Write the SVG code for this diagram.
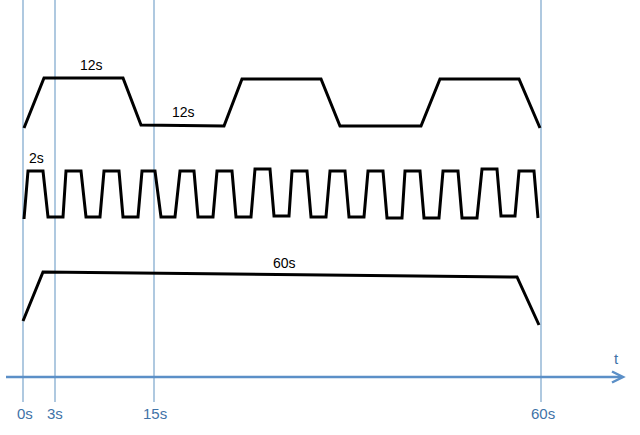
<svg xmlns="http://www.w3.org/2000/svg" width="640" height="435" viewBox="0 0 640 435">
<style>
.grid{stroke:#7AA5CC;stroke-width:1.2;fill:none}
.axis{stroke:#5B8FC7;stroke-width:2.5;fill:none}
.wave{stroke:#000;stroke-width:3;fill:none;stroke-linejoin:miter}
.lbl{font-family:"Liberation Sans",Arial,sans-serif;font-size:14px;fill:#000}
.tick{font-family:"Liberation Sans",Arial,sans-serif;font-size:15px;fill:#3F73A8}
</style>
<rect width="640" height="435" fill="#fff"/>
<g id="connectors">
<line class="grid" x1="23" y1="0" x2="23" y2="402"/>
<line class="grid" x1="55" y1="0" x2="55" y2="402"/>
<line class="grid" x1="154" y1="0" x2="154" y2="402"/>
<line class="grid" x1="541" y1="0" x2="541" y2="402"/>
<line class="axis" x1="6" y1="377" x2="622" y2="377"/>
<polyline class="axis" points="612,371.5 623,377 612,382.5"/>
</g>
<g id="wave-top">
<polyline class="wave" points="24,128 44,78 123,78 141,125 224,126 242,79 321,79 340,126 421,126 440,79 519,79 540,128"/>
<text class="lbl" x="80" y="70">12s</text>
<text class="lbl" x="172" y="117">12s</text>
</g>
<g id="wave-pulse">
<polyline class="wave" points="24,219 28,171 43,171 48,217 63,217 66,171 81,171 86,217 100,217 104,171 119,171 123,217 138,217 142,171 155,171 161,217 175,217 180,171 194,171 198,217 213,217 217,171 232,171 236,217 251,217 255,169 270,169 274,216 289,216 292,171 307,171 311,217 326,217 330,171 345,171 349,217 364,217 368,171 383,171 387,218 402,218 405,171 420,171 424,218 439,218 443,171 458,171 462,218 477,218 482,169 497,169 501,216 515,216 519,171 534,171 538,218"/>
<text class="lbl" x="29" y="163">2s</text>
</g>
<g id="wave-bottom">
<polyline class="wave" points="23,321 43,272 517,277 539,325"/>
<text class="lbl" x="273" y="268">60s</text>
</g>
<g id="labels">
<text class="tick" x="17" y="419">0s</text>
<text class="tick" x="47" y="419">3s</text>
<text class="tick" x="143" y="419">15s</text>
<text class="tick" x="531" y="419">60s</text>
<text class="tick" x="614" y="364">t</text>
</g>
</svg>
